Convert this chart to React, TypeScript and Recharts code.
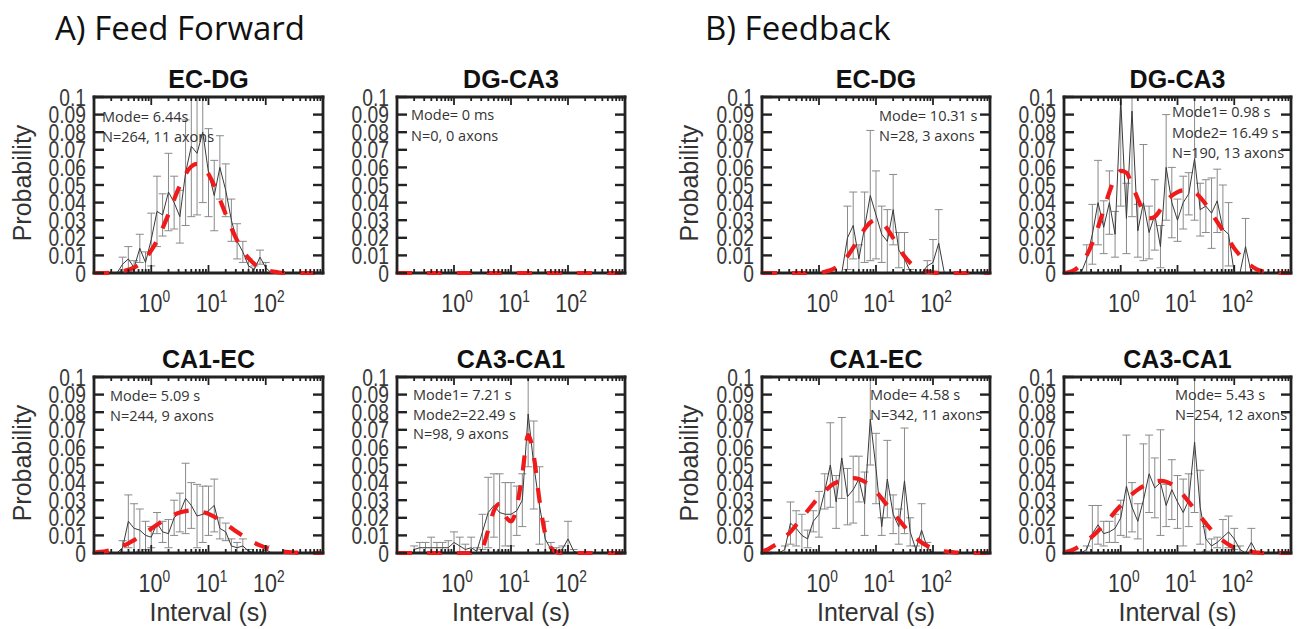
import React from "react";
import { ComposedChart, Line, XAxis, YAxis, ErrorBar } from "recharts";

const n = null;

// bin centres, 10 per decade from 0.1 s to 1000 s
const grid = [
  0.1, 0.126, 0.158, 0.2, 0.251, 0.316, 0.398, 0.501, 0.631, 0.794,
  1, 1.26, 1.58, 2, 2.51, 3.16, 3.98, 5.01, 6.31, 7.94,
  10, 12.6, 15.8, 20, 25.1, 31.6, 39.8, 50.1, 63.1, 79.4,
  100, 126, 158, 200, 251, 316, 398, 501, 631, 794, 1000,
];

const yTicks = [0, 0.01, 0.02, 0.03, 0.04, 0.05, 0.06, 0.07, 0.08, 0.09, 0.1];
const decades = [0.1, 1, 10, 100, 1000];
const labelled = [1, 10, 100];
const xTicks = decades.flatMap((d) => (d === 1000 ? [d] : [1, 2, 3, 4, 5, 6, 7, 8, 9].map((m) => d * m)));

// A) feed forward, EC-DG
const ffEcDgP = [
  n, n, n, n, 0, 0.005, 0.008, 0.003, 0.014, 0.006,
  0.019, 0.035, 0.033, 0.046, 0.04, 0.032, 0.057, 0.072, 0.068, 0.08,
  0.057, 0.044, 0.06, 0.047, 0.03, 0.018, 0.012, 0.004, 0.002, 0.009,
  0.003, 0, n, n, n, n, n, n, n, n, n,
];
const ffEcDgErr = [
  n, n, n, n, 0, 0.004, 0.007, 0.004, 0.008, 0.006,
  0.015, 0.02, 0.012, 0.022, 0.015, 0.015, 0.03, 0.04, 0.035, 0.04,
  0.025, 0.02, 0.018, 0.015, 0.012, 0.01, 0.006, 0.004, 0.002, 0.004,
  0.003, 0, n, n, n, n, n, n, n, n, n,
];
const ffEcDgFit = [
  0, 0, 0, 0.0002, 0.0005, 0.001, 0.0018, 0.0031, 0.0052, 0.0084,
  0.0128, 0.0185, 0.0255, 0.0334, 0.0418, 0.0496, 0.0562, 0.0605, 0.062, 0.0605,
  0.0562, 0.0496, 0.0418, 0.0334, 0.0255, 0.0185, 0.0128, 0.0084, 0.0052, 0.0031,
  0.0018, 0.001, 0.0005, 0, 0, 0, 0, 0, 0, 0, 0,
];

// A) feed forward, DG-CA3 (no intervals)
const ffDgCa3Fit = [
  0, 0, 0, 0, 0, 0, 0, 0, 0, 0,
  0, 0, 0, 0, 0, 0, 0, 0, 0, 0,
  0, 0, 0, 0, 0, 0, 0, 0, 0, 0,
  0, 0, 0, 0, 0, 0, 0, 0, 0, 0, 0,
];

// B) feedback, EC-DG
const fbEcDgP = [
  n, n, n, n, n, n, n, n, n, n,
  n, n, n, n, 0, 0.02, 0.027, 0.008, 0.026, 0.044,
  0.033, 0.022, 0.018, 0.036, 0.013, 0.008, 0.001, 0, 0, 0.004,
  0.006, 0.017, 0, n, n, n, n, n, n, n, n,
];
const fbEcDgErr = [
  n, n, n, n, n, n, n, n, n, n,
  n, n, n, n, 0, 0.018, 0.019, 0.008, 0.02, 0.037,
  0.025, 0.016, 0.018, 0.02, 0.01, 0.015, 0.001, 0, 0, 0.003,
  0.013, 0.019, 0, n, n, n, n, n, n, n, n,
];
const fbEcDgFit = [
  0, 0, 0, 0, 0, 0, 0, 0, 0, 0,
  0, 0.0007, 0.0016, 0.0032, 0.0058, 0.0095, 0.0144, 0.0199, 0.025, 0.0287,
  0.03, 0.0287, 0.025, 0.0199, 0.0144, 0.0095, 0.0058, 0.0032, 0.0017, 0.0008,
  0.0003, 0, 0, 0, 0, 0, 0, 0, 0, 0, 0,
];

// B) feedback, DG-CA3
const fbDgCa3P = [
  n, n, n, 0, 0.008, 0.022, 0.04, 0.026, 0.04, 0.022,
  0.098, 0.031, 0.092, 0.024, 0.04, 0.023, 0.033, 0.015, 0.06, 0.04,
  0.03, 0.04, 0.045, 0.065, 0.036, 0.038, 0.034, 0.041, 0.025, 0.022,
  0, 0, 0.015, 0, n, n, n, n, n, n, n,
];
const fbDgCa3Err = [
  n, n, n, 0, 0.008, 0.017, 0.024, 0.015, 0.018, 0.013,
  0.06, 0.02, 0.06, 0.015, 0.033, 0.015, 0.02, 0.012, 0.03, 0.02,
  0.012, 0.015, 0.012, 0.035, 0.015, 0.015, 0.02, 0.018, 0.025, 0.018,
  0, 0, 0.016, 0, n, n, n, n, n, n, n,
];
const fbDgCa3Fit = [
  0, 0.0005, 0.002, 0.005, 0.01, 0.017, 0.026, 0.036, 0.046, 0.054,
  0.058, 0.057, 0.05, 0.042, 0.035, 0.031, 0.032, 0.036, 0.041, 0.044,
  0.046, 0.047, 0.047, 0.046, 0.043, 0.039, 0.034, 0.029, 0.024, 0.019,
  0.014, 0.01, 0.0065, 0.004, 0.002, 0.001, 0.0005, 0, 0, 0, 0,
];

// A) feed forward, CA1-EC
const ffCa1EcP = [
  n, n, n, n, 0, 0.003, 0.018, 0.014, 0.013, 0.01,
  0.009, 0.017, 0.012, 0.011, 0.02, 0.023, 0.031, 0.027, 0.021, 0.022,
  0.024, 0.027, 0.014, 0.012, 0.004, 0.003, 0.004, 0.001, 0, 0,
  0.002, 0, n, n, n, n, n, n, n, n, n,
];
const ffCa1EcErr = [
  n, n, n, n, 0, 0.004, 0.015, 0.014, 0.012, 0.008,
  0.006, 0.006, 0.006, 0.008, 0.01, 0.011, 0.02, 0.013, 0.018, 0.016,
  0.014, 0.015, 0.006, 0.005, 0.004, 0.003, 0.004, 0.001, 0, 0,
  0.002, 0, n, n, n, n, n, n, n, n, n,
];
const ffCa1EcFit = [
  0.0003, 0.0006, 0.001, 0.0017, 0.0027, 0.004, 0.0055, 0.0073, 0.0093, 0.0115,
  0.0138, 0.016, 0.0182, 0.0202, 0.0218, 0.023, 0.0238, 0.0242, 0.024, 0.0233,
  0.0222, 0.0206, 0.0187, 0.0165, 0.0142, 0.0119, 0.0097, 0.0076, 0.0058, 0.0043,
  0.003, 0.002, 0.0013, 0.0008, 0.0005, 0.0003, 0, 0, 0, 0, 0,
];

// A) feed forward, CA3-CA1
const ffCa3Ca1P = [
  n, n, n, 0.002, 0.003, 0.003, 0.003, 0.003, 0.003, 0.003,
  0.006, 0.004, 0.002, 0.003, 0.001, 0.012, 0.023, 0.027, 0.023, 0.022,
  0.022, 0.024, 0.03, 0.079, 0.05, 0.027, 0.008, 0.002, 0.001, 0.002,
  0.008, 0.001, 0, n, n, n, n, n, n, n, n,
];
const ffCa3Ca1Err = [
  n, n, n, 0.002, 0.003, 0.003, 0.006, 0.003, 0.003, 0.004,
  0.006, 0.005, 0.003, 0.006, 0.002, 0.01, 0.02, 0.018, 0.022, 0.018,
  0.018, 0.014, 0.015, 0.03, 0.025, 0.022, 0.01, 0.004, 0.002, 0.002,
  0.01, 0.001, 0, n, n, n, n, n, n, n, n,
];
const ffCa3Ca1Fit = [
  0, 0, 0, 0, 0, 0, 0, 0, 0, 0,
  0, 0, 0, 0, 0.0005, 0.003, 0.013, 0.024, 0.028, 0.021,
  0.018, 0.026, 0.045, 0.067, 0.055, 0.03, 0.011, 0.003, 0.0005, 0,
  0, 0, 0, 0, 0, 0, 0, 0, 0, 0, 0,
];

// B) feedback, CA1-EC
const fbCa1EcP = [
  n, n, n, 0, 0.002, 0.017, 0.014, 0.01, 0.008, 0.018,
  0.022, 0.035, 0.05, 0.029, 0.054, 0.032, 0.036, 0.042, 0.028, 0.076,
  0.048, 0.015, 0.042, 0.022, 0.015, 0.041, 0.012, 0.002, 0.013, 0.003,
  0, n, n, n, n, n, n, n, n, n, n,
];
const fbCa1EcErr = [
  n, n, n, 0, 0.002, 0.012, 0.01, 0.012, 0.005, 0.006,
  0.013, 0.01, 0.024, 0.015, 0.023, 0.016, 0.019, 0.013, 0.018, 0.026,
  0.02, 0.005, 0.022, 0.011, 0.01, 0.03, 0.008, 0.002, 0.015, 0.003,
  0, n, n, n, n, n, n, n, n, n, n,
];
const fbCa1EcFit = [
  0.001, 0.002, 0.004, 0.006, 0.009, 0.012, 0.016, 0.02, 0.024, 0.028,
  0.032, 0.035, 0.038, 0.04, 0.0415, 0.0423, 0.0425, 0.042, 0.0405, 0.038,
  0.035, 0.031, 0.027, 0.023, 0.019, 0.015, 0.0115, 0.0085, 0.006, 0.004,
  0.0027, 0.0017, 0.001, 0.0006, 0.0003, 0, 0, 0, 0, 0, 0,
];

// B) feedback, CA3-CA1
const fbCa3Ca1P = [
  n, n, n, 0, 0.002, 0.011, 0.016, 0.011, 0.012, 0.014,
  0.02, 0.038, 0.026, 0.018, 0.03, 0.045, 0.037, 0.04, 0.027, 0.036,
  0.029, 0.023, 0.03, 0.063, 0.026, 0.008, 0.004, 0.006, 0.009, 0.012,
  0.008, 0.002, 0, 0.006, 0, n, n, n, n, n, n,
];
const fbCa3Ca1Err = [
  n, n, n, 0, 0.002, 0.016, 0.011, 0.007, 0.006, 0.008,
  0.01, 0.029, 0.014, 0.01, 0.032, 0.022, 0.017, 0.03, 0.012, 0.017,
  0.015, 0.019, 0.015, 0.04, 0.021, 0.007, 0.004, 0.003, 0.01, 0.009,
  0.006, 0.002, 0, 0.008, 0, n, n, n, n, n, n,
];
const fbCa3Ca1Fit = [
  0.0005, 0.0012, 0.0025, 0.0045, 0.007, 0.0095, 0.0125, 0.016, 0.0195, 0.0235,
  0.027, 0.0305, 0.0335, 0.036, 0.038, 0.0395, 0.0405, 0.041, 0.0405, 0.039,
  0.0365, 0.033, 0.029, 0.025, 0.0208, 0.0168, 0.013, 0.0098, 0.007, 0.0048,
  0.0031, 0.0019, 0.0011, 0.0006, 0.0003, 0, 0, 0, 0, 0, 0,
];

const ARIAL = "'Liberation Sans', Arial, sans-serif";
const OPEN = "'Open Sans', sans-serif";
const INK = "#222";
const RED = "#f01a1a";
const PH = 176;

const near = (list: number[], v: number) => list.find((d) => Math.abs(d - v) < 1e-9);

function BottomTick({ x, y, payload }: any) {
  const v = payload.value;
  const major = near(decades, v) !== undefined;
  const lab = near(labelled, v);
  return (
    <g>
      <line x1={x} y1={y} x2={x} y2={y - (major ? 8 : 4)} stroke={INK} strokeWidth={1.8} />
      {lab !== undefined && (
        <g transform={`translate(${x + 3},${y + 39}) scale(0.86,1)`}>
          <text x={0} y={0} textAnchor="middle" fontFamily={ARIAL} fontSize={25} fill="#333">
            10
            <tspan dy={-10} fontSize={16}>
              {Math.round(Math.log10(lab))}
            </tspan>
          </text>
        </g>
      )}
    </g>
  );
}

function TopTick({ x, y, payload }: any) {
  const major = near(decades, payload.value) !== undefined;
  return <line x1={x} y1={y} x2={x} y2={y + (major ? 8 : 4)} stroke={INK} strokeWidth={1.8} />;
}

function LeftTick({ x, y, payload }: any) {
  const v = payload.value;
  return (
    <g>
      <line x1={x} y1={y} x2={x + 10} y2={y} stroke={INK} strokeWidth={2.4} />
      <g transform={`translate(${x - 8},${y + 8.5}) scale(0.82,1)`}>
        <text x={0} y={0} textAnchor="end" fontFamily={ARIAL} fontSize={23.5} fill="#3a3a3a">
          {v === 0 ? "0" : String(v)}
        </text>
      </g>
    </g>
  );
}

function RightTick({ x, y }: any) {
  return <line x1={x} y1={y} x2={x - 10} y2={y} stroke={INK} strokeWidth={2.4} />;
}

const frame = { stroke: INK, strokeWidth: 2.8, strokeLinecap: "square" as const };

type PanelProps = {
  left: number;
  top: number;
  w: number;
  p?: (number | null)[];
  err?: (number | null)[];
  fit: number[];
};

function Panel({ left, top, w, p, err, fit }: PanelProps) {
  const fitRows = grid.map((x, i) => ({ x, fit: fit[i] }));
  const histRows = p
    ? grid
        .map((x, i) => ({ x, p: p[i], e: err ? err[i] : 0 }))
        .filter((r) => r.p !== null)
        .map((r) => ({
          x: r.x,
          p: r.p as number,
          e: [Math.min(r.e as number, r.p as number), Math.max(0, Math.min(r.e as number, 0.1 - (r.p as number)))],
        }))
    : [];
  return (
    <div style={{ position: "absolute", left: left - 70, top: top - 12 }}>
      <ComposedChart
        width={w + 82}
        height={PH + 12 + 45}
        data={fitRows}
        margin={{ top: 11, right: 11, bottom: 0, left: 10 }}
      >
        <XAxis
          xAxisId="b"
          dataKey="x"
          type="number"
          scale="log"
          domain={[0.1, 1000]}
          allowDataOverflow
          ticks={xTicks}
          interval={0}
          tickSize={0}
          tickMargin={0}
          tickLine={false}
          axisLine={frame}
          height={45}
          tick={(props: any) => <BottomTick {...props} />}
        />
        <XAxis
          xAxisId="t"
          orientation="top"
          dataKey="x"
          type="number"
          scale="log"
          domain={[0.1, 1000]}
          ticks={xTicks}
          interval={0}
          tickSize={0}
          tickMargin={0}
          tickLine={false}
          axisLine={frame}
          height={1}
          tick={(props: any) => <TopTick {...props} />}
        />
        <YAxis
          yAxisId="l"
          type="number"
          domain={[0, 0.1]}
          allowDataOverflow
          ticks={yTicks}
          interval={0}
          tickSize={0}
          tickMargin={0}
          tickLine={false}
          axisLine={frame}
          width={60}
          tick={(props: any) => <LeftTick {...props} />}
        />
        <YAxis
          yAxisId="r"
          orientation="right"
          type="number"
          domain={[0, 0.1]}
          ticks={yTicks}
          interval={0}
          tickSize={0}
          tickMargin={0}
          tickLine={false}
          axisLine={frame}
          width={1}
          tick={(props: any) => <RightTick {...props} />}
        />
        {histRows.length > 0 && (
          <Line
            xAxisId="b"
            yAxisId="l"
            data={histRows}
            dataKey="p"
            type="linear"
            stroke="#3a3a3a"
            strokeWidth={1}
            dot={false}
            activeDot={false}
            isAnimationActive={false}
          >
            <ErrorBar dataKey="e" direction="y" width={4} strokeWidth={1} stroke="#8a8a8a" />
          </Line>
        )}
        <Line
          xAxisId="t"
          yAxisId="r"
          dataKey="fit"
          type="monotone"
          stroke={RED}
          strokeWidth={4.2}
          strokeDasharray="15 15"
          dot={false}
          activeDot={false}
          isAnimationActive={false}
          {...({ zIndex: 600 } as any)}
        />
      </ComposedChart>
    </div>
  );
}

const titles = [
  { t: "EC-DG", x: 208.5, y: 88 },
  { t: "DG-CA3", x: 511, y: 88 },
  { t: "EC-DG", x: 876, y: 88 },
  { t: "DG-CA3", x: 1177.5, y: 88 },
  { t: "CA1-EC", x: 208.5, y: 368 },
  { t: "CA3-CA1", x: 511, y: 368 },
  { t: "CA1-EC", x: 876, y: 368 },
  { t: "CA3-CA1", x: 1177.5, y: 368 },
];

const notes = [
  { x: 102, y: [122, 142], lines: ["Mode= 6.44s", "N=264, 11 axons"] },
  { x: 411, y: [120, 141], lines: ["Mode= 0 ms", "N=0, 0 axons"] },
  { x: 879, y: [121, 141], lines: ["Mode= 10.31 s", "N=28, 3 axons"] },
  { x: 1172, y: [117, 138, 158], lines: ["Mode1= 0.98 s", "Mode2= 16.49 s", "N=190, 13 axons"] },
  { x: 110, y: [401, 421], lines: ["Mode= 5.09 s", "N=244, 9 axons"] },
  { x: 413, y: [400, 420, 439], lines: ["Mode1= 7.21 s", "Mode2=22.49 s", "N=98, 9 axons"] },
  { x: 870, y: [400, 420], lines: ["Mode= 4.58 s", "N=342, 11 axons"] },
  { x: 1175, y: [400, 420], lines: ["Mode= 5.43 s", "N=254, 12 axons"] },
];

const xLabelCenters = [208.5, 511, 876, 1177.5];

export default function App() {
  return (
    <div style={{ position: "absolute", left: 0, top: 0, width: 1298, height: 629, background: "#fff" }}>
      <Panel left={94} top={97} w={229} p={ffEcDgP} err={ffEcDgErr} fit={ffEcDgFit} />
      <Panel left={397} top={97} w={228} fit={ffDgCa3Fit} />
      <Panel left={762} top={97} w={228} p={fbEcDgP} err={fbEcDgErr} fit={fbEcDgFit} />
      <Panel left={1064} top={97} w={227} p={fbDgCa3P} err={fbDgCa3Err} fit={fbDgCa3Fit} />
      <Panel left={94} top={377} w={229} p={ffCa1EcP} err={ffCa1EcErr} fit={ffCa1EcFit} />
      <Panel left={397} top={377} w={228} p={ffCa3Ca1P} err={ffCa3Ca1Err} fit={ffCa3Ca1Fit} />
      <Panel left={762} top={377} w={228} p={fbCa1EcP} err={fbCa1EcErr} fit={fbCa1EcFit} />
      <Panel left={1064} top={377} w={227} p={fbCa3Ca1P} err={fbCa3Ca1Err} fit={fbCa3Ca1Fit} />
      <svg
        width={1298}
        height={629}
        style={{ position: "absolute", left: 0, top: 0, pointerEvents: "none" }}
      >
        <text x={55} y={39.5} fontFamily={OPEN} fontSize={33} fill="#111">
          A) Feed Forward
        </text>
        <text x={705} y={39.5} fontFamily={OPEN} fontSize={33} fill="#111">
          B) Feedback
        </text>
        {titles.map((d, i) => (
          <text key={i} x={d.x} y={d.y} textAnchor="middle" fontFamily={ARIAL} fontWeight="bold" fontSize={25} fill="#111">
            {d.t}
          </text>
        ))}
        {notes.map((d, i) =>
          d.lines.map((l, j) => (
            <text key={`${i}-${j}`} x={d.x} y={d.y[j]} fontFamily={OPEN} fontSize={14.5} fill="#333">
              {l}
            </text>
          ))
        )}
        {[183, 463].map((cy) =>
          [31, 698].map((cx) => (
            <text
              key={`${cx}-${cy}`}
              x={cx}
              y={cy}
              transform={`rotate(-90 ${cx} ${cy})`}
              textAnchor="middle"
              fontFamily={ARIAL}
              fontSize={25}
              fill="#333"
            >
              Probability
            </text>
          ))
        )}
        {xLabelCenters.map((cx) => (
          <text key={cx} x={cx} y={621} textAnchor="middle" fontFamily={ARIAL} fontSize={25} fill="#333">
            Interval (s)
          </text>
        ))}
      </svg>
    </div>
  );
}
